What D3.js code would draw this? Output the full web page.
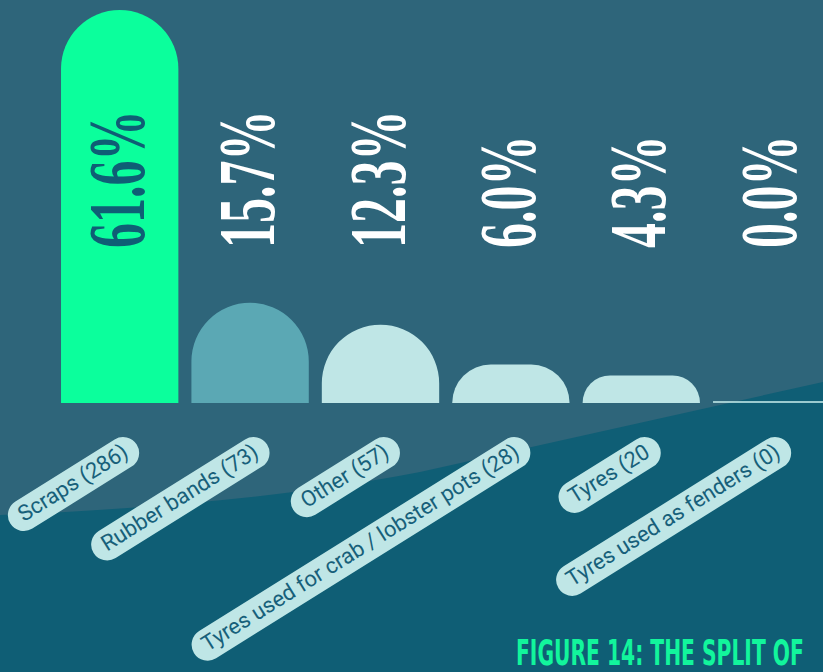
<!DOCTYPE html>
<html>
<head>
<meta charset="utf-8">
<script src="https://cdn.jsdelivr.net/npm/d3@7"></script>
<style>
  html, body { margin: 0; padding: 0; background: #2e657a; }
  svg { display: block; }
</style>
</head>
<body>
<svg id="chart" width="823" height="672"></svg>
<script>
// ---- data ----
const categories = ["Scraps", "Rubber bands", "Other", "Tyres used for crab / lobster pots", "Tyres", "Tyres used as fenders"];
const counts = [286, 73, 57, 28, 20, 0];
const percentLabels = ["61.6%", "15.7%", "12.3%", "6.0%", "4.3%", "0.0%"];
const axisLabels = ["Scraps (286)", "Rubber bands (73)", "Other (57)", "Tyres used for crab / lobster pots (28)", "Tyres (20", "Tyres used as fenders (0)"];
const caption = "FIGURE 14: THE SPLIT OF";

// ---- styles ----
const bgTop = "#2e657a";
const bgBottom = "#0f5e75";
const barColors = ["#0bff9c", "#5ba8b4", "#bfe6e6", "#bfe6e6", "#bfe6e6", "#bfe6e6"];
const pctColors = ["#0f5e75", "#ffffff", "#ffffff", "#ffffff", "#ffffff", "#ffffff"];

const W = 823, H = 672;
const svg = d3.select("#chart");

svg.append("rect").attr("width", W).attr("height", H).attr("fill", bgTop);
// darker lower wave
svg.append("path")
  .attr("d", "M0,515 Q250,505 420,472 L823,382 L823,672 L0,672 Z")
  .attr("fill", bgBottom);

const x = d3.scaleBand().domain(categories).range([54.5, 836.9]).paddingInner(0.1).paddingOuter(0.05);
const y = d3.scaleLinear().domain([0, 286]).range([403, 10]);

function barPath(x0, w, yTop, yBase) {
  const h = yBase - yTop;
  const r = Math.min(w / 2, h);
  if (h <= 0) return "";
  return `M${x0},${yBase} L${x0},${yTop + r} A${r},${r} 0 0 1 ${x0 + r},${yTop}` +
         ` L${x0 + w - r},${yTop} A${r},${r} 0 0 1 ${x0 + w},${yTop + r} L${x0 + w},${yBase} Z`;
}

const data = categories.map((c, i) => ({ c, v: counts[i], i }));

svg.append("g").selectAll("path").data(data.filter(d => d.v > 0)).join("path")
  .attr("d", d => barPath(x(d.c), x.bandwidth(), y(d.v), y(0)))
  .attr("fill", d => barColors[d.i]);

// zero-value bars as thin line
svg.append("g").selectAll("rect").data(data.filter(d => d.v === 0)).join("rect")
  .attr("x", d => x(d.c)).attr("width", x.bandwidth())
  .attr("y", y(0) - 1.8).attr("height", 1.6)
  .attr("fill", d => barColors[d.i]);

// percentage labels (vertical)
const pctSize = 80, pctScale = 0.625, capH = 54;
svg.append("g").selectAll("text").data(data).join("text")
  .attr("transform", d => `translate(${x(d.c) + x.bandwidth() / 2 + capH / 2 - 3},248) rotate(-90) scale(${pctScale},1)`)
  .attr("font-family", "'Liberation Serif', 'DejaVu Serif', serif")
  .attr("font-weight", "bold")
  .attr("font-size", pctSize)
  .attr("fill", d => pctColors[d.i])
  .text(d => percentLabels[d.i]);

// rotated pill labels
const angle = -32, fs = 22;
const lg = svg.append("g").selectAll("g").data(data).join("g")
  .attr("transform", d => `translate(${x(d.c) + x.bandwidth() / 2 + 10},456) rotate(${angle})`);
lg.append("rect").attr("class", "pill");
lg.append("text")
  .attr("text-anchor", "end")
  .attr("font-family", "Roboto, 'Noto Sans', sans-serif")
  .attr("font-size", fs)
  .attr("fill", "#17607a")
  .text(d => axisLabels[d.i]);
lg.each(function () {
  const g = d3.select(this);
  const tw = g.select("text").node().getComputedTextLength();
  const padX = 12, hh = 32;
  g.select("rect")
    .attr("x", -tw - padX).attr("y", -22)
    .attr("width", tw + 2 * padX).attr("height", hh)
    .attr("rx", hh / 2).attr("ry", hh / 2)
    .attr("fill", "#bfe6e6");
});

// caption (scaled horizontally to a condensed look)
const cap = svg.append("text")
  .attr("font-family", "'Liberation Sans Narrow', 'DejaVu Sans Condensed', sans-serif")
  .attr("font-weight", "bold")
  .attr("font-size", 36)
  .attr("fill", "#12f59c")
  .text(caption);
const capW = cap.node().getComputedTextLength();
cap.attr("transform", `translate(516,665) scale(${288 / capW},1)`);
</script>
</body>
</html>
